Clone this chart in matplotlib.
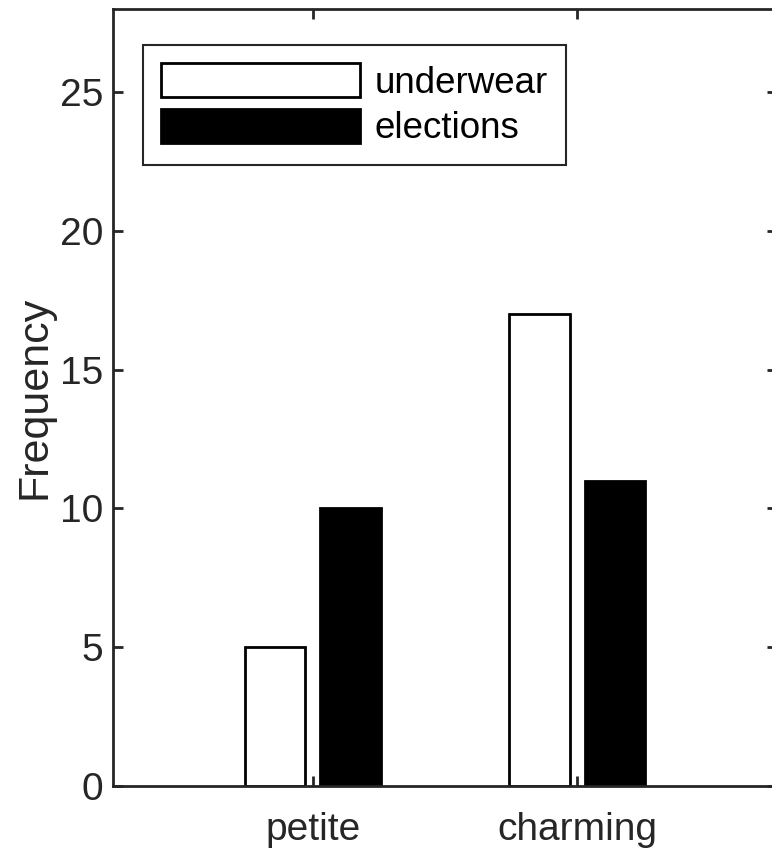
import numpy as np
import matplotlib.pyplot as plt
from matplotlib.patches import Patch

# частоты слов в двух корпусах
words = ['petite', 'charming']
underwear = [5, 17]
elections = [10, 11]
series_names = ['underwear', 'elections']

plt.rcParams['font.family'] = ['Liberation Sans', 'DejaVu Sans']
axis_color = '#262626'

fig = plt.figure(figsize=(7.72, 8.52), dpi=100)
# ось шире картинки: правая граница уходит за край
ax = fig.add_axes([0.1464, 0.0775, 0.860, 0.912])

x = np.arange(1, len(words) + 1)
bar_w = 0.229
offset = 0.143
ax.bar(x - offset, underwear, bar_w, facecolor='white', edgecolor='black', linewidth=2)
ax.bar(x + offset, elections, bar_w, facecolor='black', edgecolor='black', linewidth=2)

ax.set_xlim(0.245, 2.755)
ax.set_ylim(0, 28)
ax.set_xticks(x)
ax.set_xticklabels(words)
ax.set_yticks([0, 5, 10, 15, 20, 25])

for s in ax.spines.values():
    s.set_linewidth(2)
    s.set_color(axis_color)
ax.tick_params(direction='in', length=7, width=2, color=axis_color,
               labelsize=28, labelcolor=axis_color, top=True, right=True)
ax.tick_params(axis='x', pad=19)
ax.tick_params(axis='y', pad=7)

ax.set_ylabel('Frequency', fontsize=31, color=axis_color)
ax.yaxis.set_label_coords(-0.088, 0.5)

handles = [Patch(facecolor='white', edgecolor='black', linewidth=2),
           Patch(facecolor='black', edgecolor='black', linewidth=2)]
leg = ax.legend(handles, series_names, loc='upper left', bbox_to_anchor=(0.045, 0.954),
                borderaxespad=0, fontsize=26.5, fancybox=False, framealpha=1,
                borderpad=0.5, labelspacing=0.22, handleheight=1.05,
                handlelength=5.4, handletextpad=0.4)
leg.get_frame().set_edgecolor(axis_color)
leg.get_frame().set_linewidth(1.5)

fig.savefig('out.png', dpi=100)
